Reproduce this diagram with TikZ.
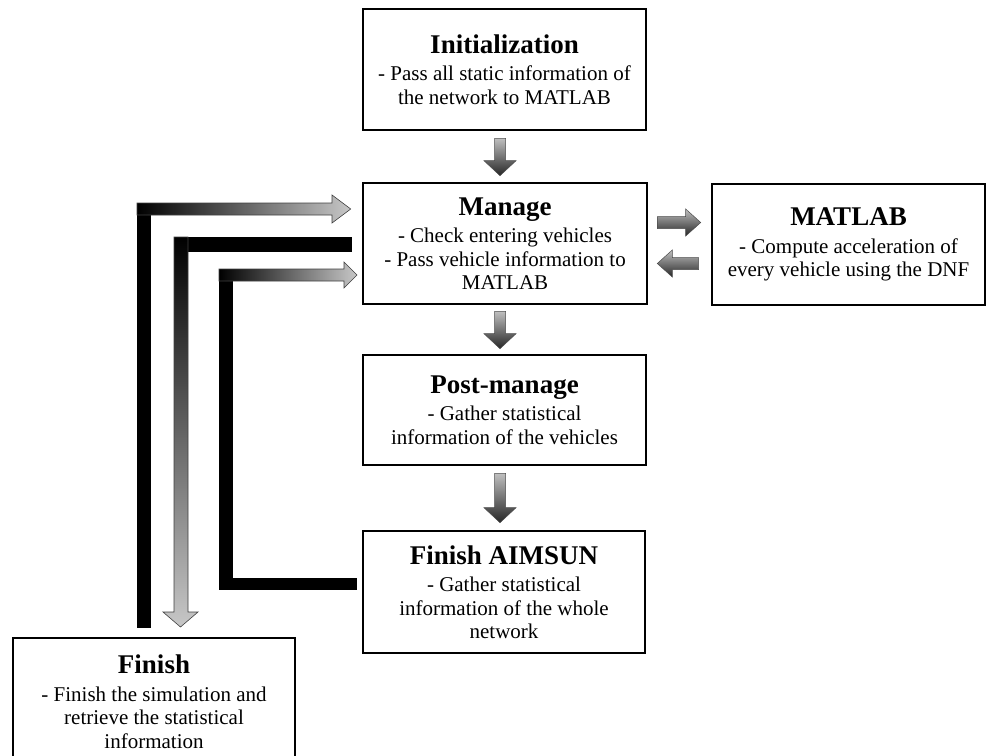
\documentclass[tikz,border=0pt]{standalone}
\usepackage{fontspec}
\setmainfont{Liberation Serif}
\usetikzlibrary{calc}
\tikzset{
  box/.style={draw, line width=2.6pt, align=center, inner sep=0pt, fill=white,
    font=\fontsize{21}{23.5}\selectfont},
  smallarrow/.style={draw=black!70, line width=0.5pt, top color=black!25, bottom color=black!85},
  bigarrow/.style={draw=black!75, line width=0.6pt},
}
\newcommand\ttl[1]{{\fontsize{27}{30}\selectfont\bfseries #1}\\[4pt]}
% vertical down arrow: #1 start (top), #2 tip
\newcommand\varrow[2]{\shadedraw[smallarrow] let \p1=#1, \p2=#2 in
  (\x1-5.5pt,\y1) -- (\x1+5.5pt,\y1) -- (\x1+5.5pt,\y2+15pt) -- (\x1+16pt,\y2+15pt)
  -- (\x1,\y2) -- (\x1-16pt,\y2+15pt) -- (\x1-5.5pt,\y2+15pt) -- cycle;}
% horizontal arrow: #1 tail, #2 tip, #3 = +1 (right) / -1 (left)
\newcommand\harrow[3]{\shadedraw[smallarrow] let \p1=#1, \p2=#2 in
  (\x1,\y1+6pt) -- (\x2-#3*15pt,\y1+6pt) -- (\x2-#3*15pt,\y1+13.5pt) -- (\x2,\y1)
  -- (\x2-#3*15pt,\y1-13.5pt) -- (\x2-#3*15pt,\y1-6pt) -- (\x1,\y1-6pt) -- cycle;}
\begin{document}
\begin{tikzpicture}[x=1pt,y=1pt]
\useasboundingbox (0,0) rectangle (987,-755);
\clip (0,0) rectangle (987,-755);

% boxes
\node[box, minimum width=283pt, minimum height=121pt] (init) at (504.5,-69.5)
  {\ttl{Initialization}- Pass all static information of\\the network to MATLAB};
\node[box, minimum width=284pt, minimum height=121pt] (manage) at (505,-243.5)
  {\ttl{Manage}- Check entering vehicles\\- Pass vehicle information to\\MATLAB};
\node[box, minimum width=273pt, minimum height=121pt] (matlab) at (848.5,-244.5)
  {\ttl{MATLAB}- Compute acceleration of\\every vehicle using the DNF};
\node[box, minimum width=283pt, minimum height=110pt] (post) at (504.5,-410)
  {\ttl{Post-manage}- Gather statistical\\information of the vehicles};
\node[box, minimum width=282pt, minimum height=122pt] (aimsun) at (504,-592)
  {\ttl{Finish AIMSUN}- Gather statistical\\information of the whole\\network};
\node[box, minimum width=282pt, minimum height=127pt] (finish) at (154,-701.5)
  {\ttl{Finish}- Finish the simulation and\\retrieve the statistical\\information};

% small block arrows
\varrow{($(init.south)+(-4.5,-7)$)}{($(manage.north)+(-5,6)$)}
\varrow{($(manage.south)+(-5,-6)$)}{($(post.north)+(-4.5,5)$)}
\varrow{($(post.south)+(-4.5,-7)$)}{($(aimsun.north)+(-4,7)$)}
\coordinate (mr) at ($(manage.east)+(9,21)$);
\coordinate (ml) at ($(matlab.west)+(-10,22)$);
\harrow{(mr)}{(ml)}{1}
\coordinate (mr2) at ($(matlab.west)+(-12,-19)$);
\coordinate (ml2) at ($(manage.east)+(9,-20)$);
\harrow{(mr2)}{(ml2)}{-1}

% feedback: Finish -> Manage (outer)
\coordinate (oStart) at ($(finish.north)+(-10,-10)$);
\coordinate (oTip) at ($(manage.west)+(-11,34.5)$);
\fill[black] (137,-203) rectangle (151,-628);
\shadedraw[bigarrow, left color=black, right color=black!22]
  (137,-203) -- (332,-203) -- (332,-195) -- (oTip) -- (332,-223) -- (332,-215)
  -- (137,-215) -- cycle;

% feedback: Manage -> Finish (middle)
\coordinate (mTip) at (180.5,-627);
\fill[black] (174,-237) rectangle (352,-252);
\shadedraw[bigarrow, top color=black, bottom color=black!22]
  (174,-237) -- (188,-237) -- (188,-612) -- (198,-612) -- (mTip) -- (163,-612)
  -- (174,-612) -- cycle;

% feedback: Finish AIMSUN -> Manage (inner)
\coordinate (iTip) at (357,-275);
\fill[black] (219,-269) rectangle (233,-590);
\fill[black] (219,-578) rectangle (357,-590);
\shadedraw[bigarrow, left color=black, right color=black!22]
  (219,-269) -- (344,-269) -- (344,-262) -- (iTip) -- (344,-288) -- (344,-281)
  -- (219,-281) -- cycle;
\end{tikzpicture}
\end{document}
